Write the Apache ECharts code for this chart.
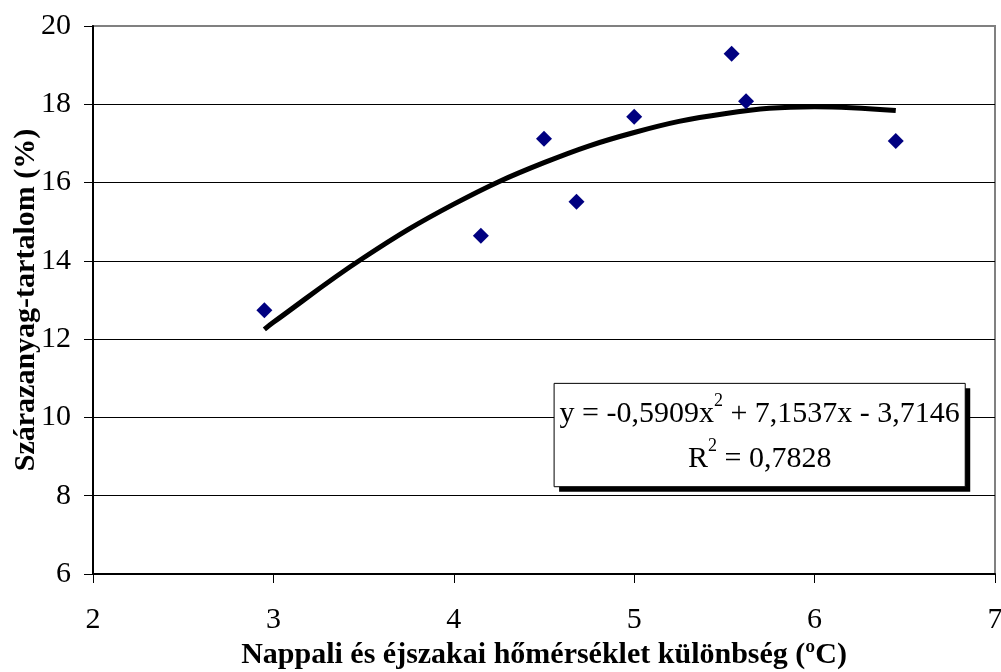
<!DOCTYPE html>
<html>
<head>
<meta charset="utf-8">
<script src="https://cdn.jsdelivr.net/npm/echarts@6/dist/echarts.min.js"></script>
<style>
html,body{margin:0;padding:0;background:#fff;}
#chart{width:1001px;height:672px;}
</style>
</head>
<body>
<div id="chart"></div>
<script>
// Observed points: temperature difference (°C) vs dry matter content (%)
const tempDiff = [2.95, 4.15, 4.50, 4.68, 5.00, 5.54, 5.62, 6.45];
const dryMatter = [12.74, 14.64, 17.12, 15.51, 17.68, 19.29, 18.08, 17.06];
// Trend curve
const trendX = [2.95, 3.0, 3.5, 4.0, 4.5, 5.0, 5.5, 6.0, 6.45];
const trendY = [12.25, 12.43, 14.08, 15.45, 16.51, 17.28, 17.76, 17.94, 17.84];
// Axis ticks
const xTicks = [2, 3, 4, 5, 6, 7];
const yTicks = [6, 8, 10, 12, 14, 16, 18, 20];
const xTitle = 'Nappali és éjszakai hőmérséklet különbség (ºC)';
const yTitle = 'Szárazanyag-tartalom (%)';

const serif = '"Liberation Serif", "Times New Roman", serif';
const chart = echarts.init(document.getElementById('chart'), null, {renderer: 'canvas'});

chart.setOption({
  backgroundColor: '#fff',
  animation: false,
  grid: {left: 93, right: 6, top: 26, bottom: 98, containLabel: false, outerBoundsMode: 'none',
         show: true, borderColor: '#808080', borderWidth: 2, backgroundColor: 'transparent'},
  xAxis: {
    type: 'value', min: xTicks[0], max: xTicks[xTicks.length - 1], interval: 1,
    axisLine: {lineStyle: {color: '#000', width: 2}},
    axisTick: {show: true, length: 9, lineStyle: {color: '#000', width: 1}},
    axisLabel: {color: '#000', fontFamily: serif, fontSize: 30, margin: 31},
    splitLine: {show: false},
    name: xTitle, nameLocation: 'middle', nameGap: 66, nameMoveOverlap: false,
    nameTextStyle: {color: '#000', fontFamily: serif, fontSize: 30, fontWeight: 'bold'}
  },
  yAxis: {
    type: 'value', min: yTicks[0], max: yTicks[yTicks.length - 1], interval: 2,
    axisLine: {show: true, lineStyle: {color: '#000', width: 2}},
    axisTick: {show: true, length: 9, lineStyle: {color: '#000', width: 1}},
    axisLabel: {color: '#000', fontFamily: serif, fontSize: 30, margin: 22},
    splitLine: {show: true, showMaxLine: false, showMinLine: false, lineStyle: {color: '#000', width: 1}},
    name: yTitle, nameLocation: 'middle', nameGap: 52, nameMoveOverlap: false,
    nameTextStyle: {color: '#000', fontFamily: serif, fontSize: 30, fontWeight: 'bold'}
  },
  series: [
    {
      type: 'line', data: trendX.map((x, i) => [x, trendY[i]]),
      smooth: 0.4, showSymbol: false, symbol: 'none',
      lineStyle: {color: '#000', width: 5}, z: 3
    },
    {
      type: 'scatter', data: tempDiff.map((x, i) => [x, dryMatter[i]]),
      symbol: 'diamond', symbolSize: 16,
      itemStyle: {color: '#000080', opacity: 1}, z: 4
    }
  ]
});

// Equation box placed in data coordinates
function placeBox() {
  const p1 = chart.convertToPixel({gridIndex: 0}, [4.556, 10.87]);
  const p2 = chart.convertToPixel({gridIndex: 0}, [6.835, 8.23]);
  const w = p2[0] - p1[0], h = p2[1] - p1[1];
  chart.setOption({
    graphic: [
      {type: 'rect', shape: {x: p1[0] + 5, y: p1[1] + 5, width: w, height: h}, style: {fill: '#000'}, z: 10},
      {type: 'rect', shape: {x: p1[0], y: p1[1], width: w, height: h}, style: {fill: '#fff', stroke: '#000', lineWidth: 1}, z: 11},
      {
        type: 'text', x: p1[0] + w / 2, y: p1[1] + h / 2 + 2, z: 12,
        style: {
          text: '{n|y = -0,5909x}{s|2}{n| + 7,1537x - 3,7146}\n{n|R}{s|2}{n| = 0,7828}',
          align: 'center', verticalAlign: 'middle', fill: '#000',
          rich: {
            n: {fontFamily: serif, fontSize: 30, lineHeight: 45, fill: '#000'},
            s: {fontFamily: serif, fontSize: 18, lineHeight: 45, verticalAlign: 'top', padding: [0, 0, 14, 0], fill: '#000'}
          }
        }
      }
    ]
  });
}
placeBox();
</script>
</body>
</html>
